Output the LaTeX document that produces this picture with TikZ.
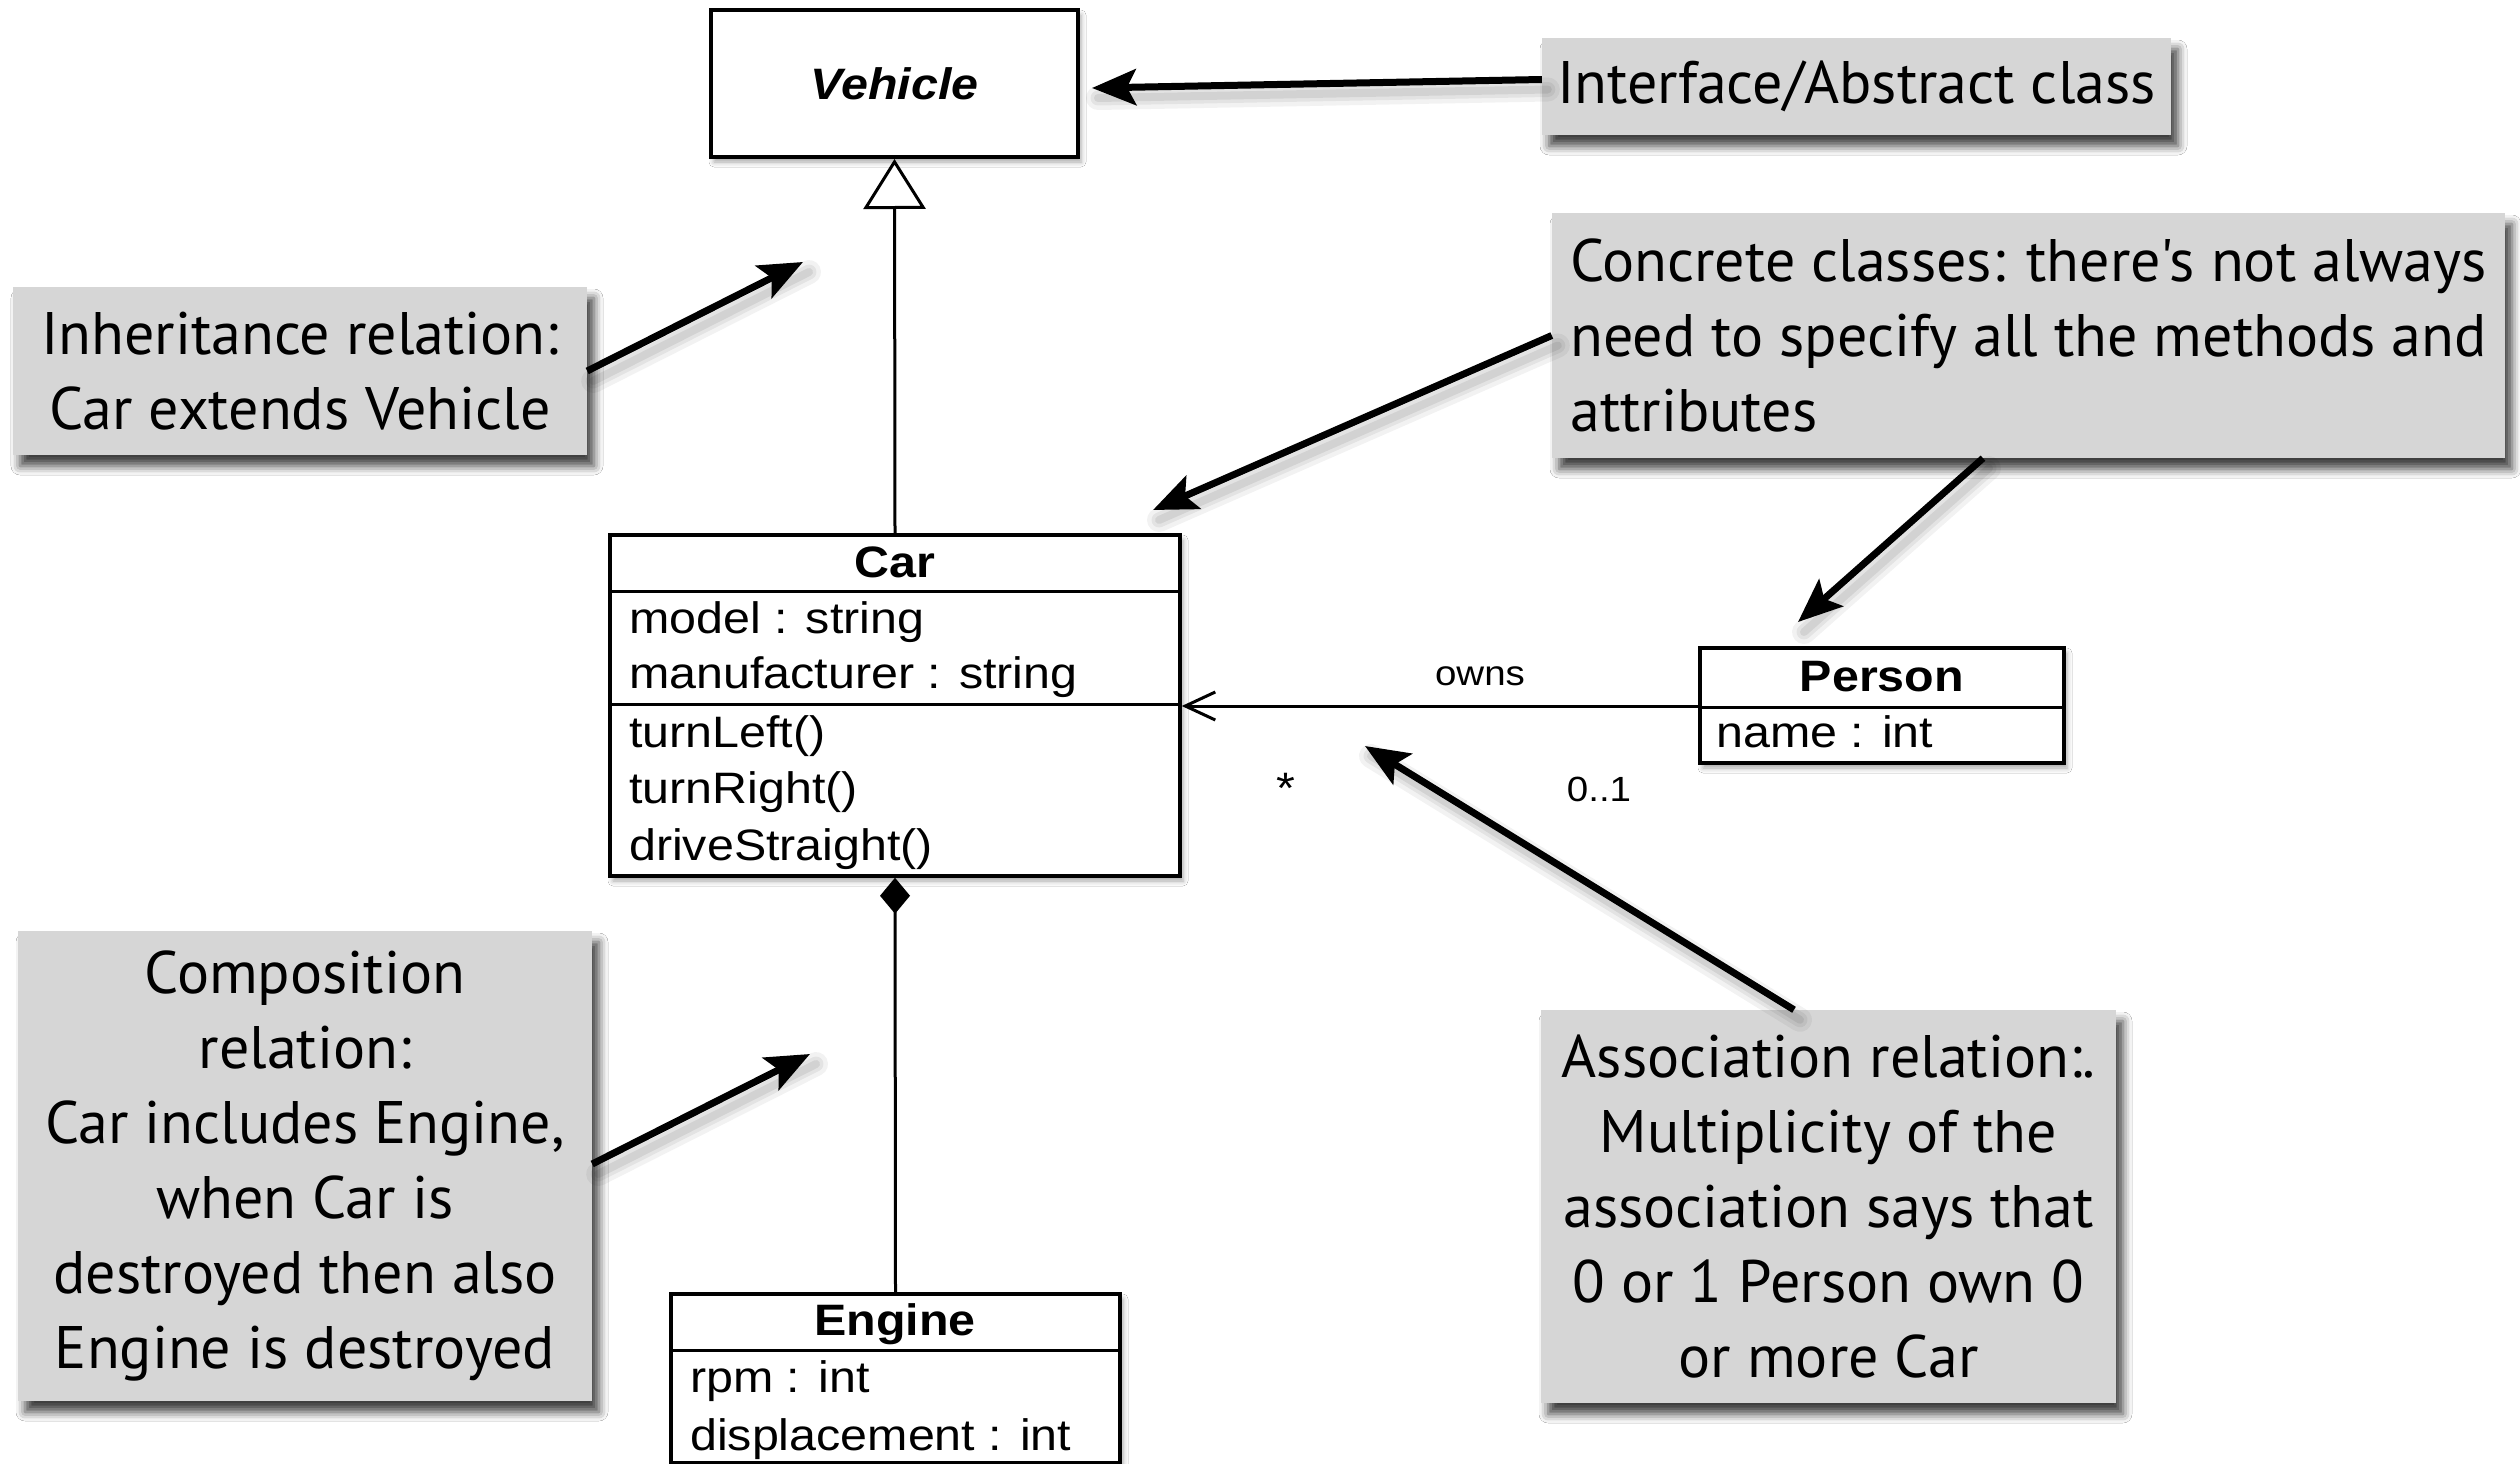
\documentclass[tikz,border=0pt]{standalone}
\usepackage{fontspec}
\setmainfont{Liberation Sans}
\newfontfamily\umlfont[FakeStretch=1.1]{Liberation Sans}
\newfontfamily\notefont{PT Sans}
\usetikzlibrary{arrows.meta,shadows.blur,calc}
\definecolor{notegray}{RGB}{214,214,214}

\begin{document}
\begin{tikzpicture}[x=1pt,y=-1pt,
  umlbox/.style={draw, line width=3.5pt, fill=white, inner sep=0pt,
    blur shadow={shadow xshift=3pt, shadow yshift=-5pt, shadow blur radius=5pt, shadow opacity=35}},
  uml/.style={font=\umlfont\fontsize{44}{56}\selectfont, inner sep=0pt},
  umlbold/.style={font=\umlfont\bfseries\fontsize{44}{56}\selectfont, inner sep=0pt},
  umlsmall/.style={font=\umlfont\fontsize{35}{42}\selectfont, inner sep=0pt},
  sepline/.style={line width=3pt},
  note/.style={fill=notegray, inner sep=0pt, font=\notefont\fontsize{60}{75}\selectfont,
    blur shadow={shadow xshift=7pt, shadow yshift=-11pt, shadow blur radius=9pt, shadow opacity=75}},
  arrowshade/.style={
    preaction={-, draw=black, draw opacity=0.05, line width=24pt, line cap=round, transform canvas={xshift=6pt,yshift=-10pt}},
    preaction={-, draw=black, draw opacity=0.06, line width=15pt, line cap=round, transform canvas={xshift=6pt,yshift=-10pt}},
    preaction={-, draw=black, draw opacity=0.07, line width=8pt, line cap=round, transform canvas={xshift=6pt,yshift=-10pt}}},
  pointer/.style={arrowshade, line width=7pt, -{Stealth[length=44pt,width=36pt,inset=9pt]}},
  inherit/.style={line width=3pt, -{Triangle[length=50pt,width=62pt,fill=white]}},
  compose/.style={line width=3pt, -{Diamond[length=36pt,width=30pt]}},
  assoc/.style={line width=3pt, -{Straight Barb[length=30pt,width=28pt]}}
]
\useasboundingbox (0,0) rectangle (2520,1464);
\fill[white] (0,0) rectangle (2520,1464);

% ---------- notes ----------
\node[note, minimum width=629, minimum height=97] (iface) at (1856.5,86.5) {Interface/Abstract class};
\node[note, minimum width=574, minimum height=168, align=center] (inh) at (300,371)
  {Inheritance relation:\\Car extends Vehicle};
\node[note, minimum width=953, minimum height=245, align=left] (conc) at (2028.5,335.5)
  {Concrete classes: there's not always\\need to specify all the methods and\\attributes};
\node[note, minimum width=574, minimum height=470, align=center] (comp) at (305,1166)
  {Composition\\relation:\\Car includes Engine,\\when Car is\\destroyed then also\\Engine is destroyed};
\node[note, minimum width=575, minimum height=393, align=center] (assocnote) at (1828.5,1206.5)
  {Association relation:.\\Multiplicity of the\\association says that\\0 or 1 Person own 0\\or more Car};

% ---------- classes ----------
\node[umlbox, line width=4pt, minimum width=367, minimum height=147] (vehicle) at (894.5,83.5)
  {\umlfont\bfseries\itshape\fontsize{44}{56}\selectfont Vehicle};

\node[umlbox, minimum width=570, minimum height=341] (car) at (895,705.5) {};
\draw[sepline] (car.west |- 0,591) -- (car.east |- 0,591);
\draw[sepline] (car.west |- 0,704) -- (car.east |- 0,704);
\node[umlbold, anchor=base] (carname) at (895,577) {Car};
\node[uml, anchor=base west] (carA) at (629,633) {model : string};
\node[uml, anchor=base west] (carB) at (629,688) {manufacturer : string};
\node[uml, anchor=base west] (carC) at (629,747) {turnLeft()};
\node[uml, anchor=base west] (carD) at (629,803) {turnRight()};
\node[uml, anchor=base west] (carE) at (629,860) {driveStraight()};

\node[umlbox, minimum width=364, minimum height=115] (person) at (1882,705.5) {};
\draw[sepline] (person.west |- 0,707) -- (person.east |- 0,707);
\node[umlbold, anchor=base] (personname) at (1882,691) {Person};
\node[uml, anchor=base west] (personA) at (1716,747) {name : int};

\node[umlbox, minimum width=449, minimum height=169] (engine) at (895.5,1378.5) {};
\draw[sepline] (engine.west |- 0,1350) -- (engine.east |- 0,1350);
\node[umlbold, anchor=base] (enginename) at (895,1335) {Engine};
\node[uml, anchor=base west] (engineA) at (690,1392) {rpm : int};
\node[uml, anchor=base west] (engineB) at (690,1450) {displacement : int};

% ---------- relations ----------
\coordinate (assocy) at (0,706);
\draw[inherit] (car.north) -- (vehicle.south);
\draw[compose] (engine.north) -- (car.south);
\draw[assoc] (person.west |- assocy) -- (car.east |- assocy);
\node[umlsmall, anchor=base] (owns) at (1480,685) {owns};
\node[umlsmall, font=\umlfont\fontsize{44}{50}\selectfont, anchor=base] (manyend) at (1286,803) {*};
\node[umlsmall, anchor=base] (oneend) at (1599,801) {0..1};

% ---------- pointers from the notes ----------
\coordinate (ifacetip) at (1092,88);
\coordinate (inhtip) at (803,262);
\coordinate (conctipA) at (1153,510);
\coordinate (conctipB) at (1798,622);
\coordinate (assoctip) at (1365,746);
\coordinate (comptip) at (810,1054);

\draw[pointer] ([yshift=7pt]iface.west) -- (ifacetip);
\draw[pointer] (inh.east) -- (inhtip);
\draw[pointer] (conc.west) -- (conctipA);
\draw[pointer] (conc.south -| 1983,0) -- (conctipB);
\draw[pointer] (assocnote.north -| 1794,0) -- (assoctip);
\draw[pointer] ([yshift=2pt]comp.east) -- (comptip);
\end{tikzpicture}
\end{document}
